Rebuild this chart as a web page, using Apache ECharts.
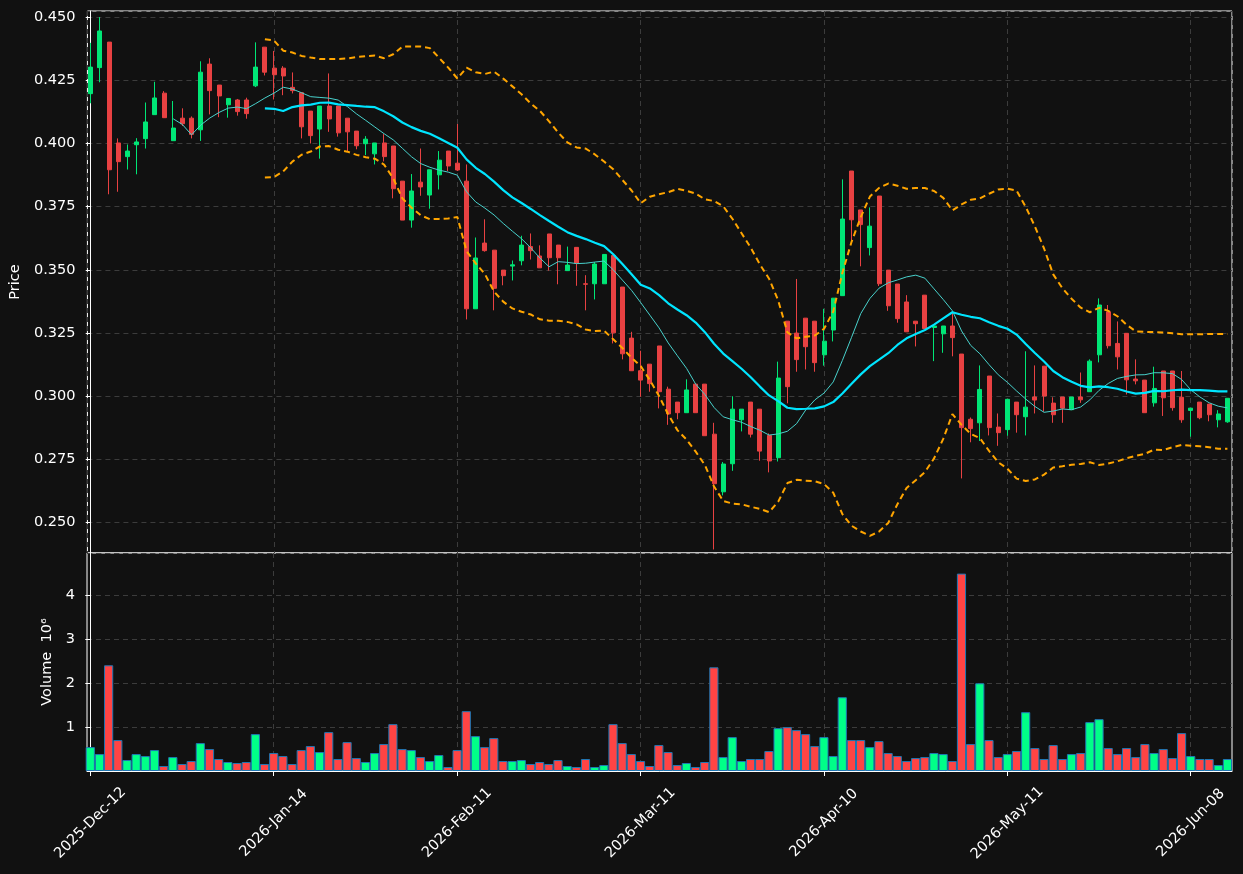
<!DOCTYPE html>
<html>
<head>
<meta charset="utf-8">
<script src="https://cdn.jsdelivr.net/npm/echarts@6/dist/echarts.min.js"></script>
<style>
  html, body { margin: 0; padding: 0; background: #111111; }
  #chart { width: 1243px; height: 874px; }
</style>
</head>
<body>
<div id="chart"></div>
<script>
const dates = [
  '2025-Dec-12', '2025-Dec-15', '2025-Dec-16', '2025-Dec-17', '2025-Dec-18', '2025-Dec-19', '2025-Dec-22', '2025-Dec-23', '2025-Dec-26', '2025-Dec-29',
  '2025-Dec-30', '2025-Dec-31', '2026-Jan-02', '2026-Jan-05', '2026-Jan-06', '2026-Jan-07', '2026-Jan-08', '2026-Jan-09', '2026-Jan-12', '2026-Jan-13',
  '2026-Jan-14', '2026-Jan-15', '2026-Jan-16', '2026-Jan-19', '2026-Jan-20', '2026-Jan-21', '2026-Jan-22', '2026-Jan-23', '2026-Jan-26', '2026-Jan-27',
  '2026-Jan-28', '2026-Jan-29', '2026-Jan-30', '2026-Feb-02', '2026-Feb-03', '2026-Feb-04', '2026-Feb-05', '2026-Feb-06', '2026-Feb-09', '2026-Feb-10',
  '2026-Feb-11', '2026-Feb-12', '2026-Feb-13', '2026-Feb-16', '2026-Feb-17', '2026-Feb-18', '2026-Feb-19', '2026-Feb-20', '2026-Feb-23', '2026-Feb-24',
  '2026-Feb-25', '2026-Feb-26', '2026-Feb-27', '2026-Mar-02', '2026-Mar-03', '2026-Mar-04', '2026-Mar-05', '2026-Mar-06', '2026-Mar-09', '2026-Mar-10',
  '2026-Mar-11', '2026-Mar-12', '2026-Mar-13', '2026-Mar-16', '2026-Mar-17', '2026-Mar-18', '2026-Mar-19', '2026-Mar-20', '2026-Mar-23', '2026-Mar-24',
  '2026-Mar-25', '2026-Mar-26', '2026-Mar-27', '2026-Mar-30', '2026-Mar-31', '2026-Apr-01', '2026-Apr-02', '2026-Apr-07', '2026-Apr-08', '2026-Apr-09',
  '2026-Apr-10', '2026-Apr-13', '2026-Apr-14', '2026-Apr-15', '2026-Apr-16', '2026-Apr-17', '2026-Apr-20', '2026-Apr-21', '2026-Apr-22', '2026-Apr-23',
  '2026-Apr-24', '2026-Apr-27', '2026-Apr-28', '2026-Apr-29', '2026-Apr-30', '2026-May-04', '2026-May-05', '2026-May-06', '2026-May-07', '2026-May-08',
  '2026-May-11', '2026-May-12', '2026-May-13', '2026-May-14', '2026-May-15', '2026-May-18', '2026-May-19', '2026-May-20', '2026-May-21', '2026-May-22',
  '2026-May-25', '2026-May-26', '2026-May-27', '2026-May-28', '2026-May-29', '2026-Jun-01', '2026-Jun-02', '2026-Jun-03', '2026-Jun-04', '2026-Jun-05',
  '2026-Jun-08', '2026-Jun-09', '2026-Jun-10', '2026-Jun-11', '2026-Jun-12'
]

const opens = [
  0.4197, 0.4300, 0.4401, 0.4002, 0.3948, 0.3995, 0.4019, 0.4114, 0.4199, 0.4011,
  0.4100, 0.4100, 0.4054, 0.4314, 0.4231, 0.4153, 0.4172, 0.4172, 0.4228, 0.4381,
  0.4298, 0.4298, 0.4222, 0.4201, 0.4128, 0.4057, 0.4148, 0.4148, 0.4100, 0.4049,
  0.3999, 0.3959, 0.4002, 0.3990, 0.3851, 0.3697, 0.3847, 0.3796, 0.3876, 0.3970,
  0.3922, 0.3851, 0.3346, 0.3606, 0.3578, 0.3499, 0.3515, 0.3536, 0.3592, 0.3555,
  0.3642, 0.3598, 0.3497, 0.3589, 0.3445, 0.3445, 0.3445, 0.3557, 0.3432, 0.3230,
  0.3101, 0.3127, 0.3199, 0.3028, 0.2977, 0.2935, 0.3048, 0.3048, 0.2850, 0.2622,
  0.2733, 0.2907, 0.2977, 0.2949, 0.2845, 0.2757, 0.3297, 0.3250, 0.3309, 0.3297,
  0.3164, 0.3262, 0.3398, 0.3891, 0.3737, 0.3588, 0.3792, 0.3499, 0.3444, 0.3373,
  0.3297, 0.3400, 0.3272, 0.3247, 0.3278, 0.3167, 0.2909, 0.2895, 0.3080, 0.2878,
  0.2868, 0.2977, 0.2919, 0.2997, 0.3119, 0.2973, 0.2997, 0.2947, 0.2997, 0.3018,
  0.3164, 0.3334, 0.3209, 0.3249, 0.3068, 0.3064, 0.2974, 0.3100, 0.3100, 0.2996,
  0.2944, 0.2977, 0.2969, 0.2907, 0.2899
]

const highs = [
  0.4398, 0.4500, 0.4401, 0.4020, 0.3996, 0.4021, 0.4162, 0.4244, 0.4207, 0.4168,
  0.4139, 0.4107, 0.4325, 0.4337, 0.4231, 0.4178, 0.4176, 0.4181, 0.4400, 0.4381,
  0.4366, 0.4306, 0.4281, 0.4201, 0.4128, 0.4148, 0.4277, 0.4148, 0.4100, 0.4049,
  0.4029, 0.4002, 0.4037, 0.3990, 0.3851, 0.3879, 0.3980, 0.3896, 0.3970, 0.3970,
  0.4077, 0.3917, 0.3628, 0.3700, 0.3578, 0.3499, 0.3537, 0.3635, 0.3644, 0.3597,
  0.3642, 0.3598, 0.3592, 0.3589, 0.3479, 0.3531, 0.3561, 0.3557, 0.3432, 0.3255,
  0.3180, 0.3127, 0.3199, 0.3038, 0.2977, 0.3067, 0.3048, 0.3048, 0.2895, 0.2740,
  0.3000, 0.2949, 0.2977, 0.2949, 0.2853, 0.3137, 0.3297, 0.3464, 0.3309, 0.3297,
  0.3346, 0.3388, 0.3858, 0.3891, 0.3737, 0.3747, 0.3792, 0.3499, 0.3444, 0.3400,
  0.3297, 0.3400, 0.3278, 0.3278, 0.3334, 0.3167, 0.2916, 0.3122, 0.3080, 0.2932,
  0.2988, 0.2977, 0.3178, 0.3122, 0.3119, 0.2996, 0.2997, 0.2997, 0.3094, 0.3146,
  0.3387, 0.3361, 0.3296, 0.3249, 0.3146, 0.3064, 0.3117, 0.3100, 0.3100, 0.3100,
  0.2953, 0.2977, 0.2969, 0.2945, 0.2992
]

const lows = [
  0.4159, 0.4242, 0.3799, 0.3809, 0.3897, 0.3878, 0.3980, 0.4114, 0.4102, 0.4011,
  0.4069, 0.4020, 0.4010, 0.4115, 0.4104, 0.4102, 0.4110, 0.4098, 0.4223, 0.4269,
  0.4174, 0.4191, 0.4198, 0.4020, 0.4000, 0.3940, 0.4046, 0.4027, 0.3966, 0.3977,
  0.3954, 0.3917, 0.3929, 0.3783, 0.3697, 0.3667, 0.3793, 0.3742, 0.3818, 0.3891,
  0.3891, 0.3304, 0.3346, 0.3572, 0.3340, 0.3439, 0.3458, 0.3518, 0.3541, 0.3508,
  0.3497, 0.3443, 0.3497, 0.3437, 0.3340, 0.3383, 0.3445, 0.3209, 0.3146, 0.3101,
  0.2998, 0.3018, 0.2952, 0.2887, 0.2909, 0.2935, 0.2935, 0.2844, 0.2394, 0.2608,
  0.2705, 0.2861, 0.2837, 0.2745, 0.2699, 0.2742, 0.2972, 0.3097, 0.3106, 0.3097,
  0.3121, 0.3217, 0.3398, 0.3618, 0.3514, 0.3557, 0.3436, 0.3338, 0.3291, 0.3255,
  0.3197, 0.3268, 0.3139, 0.3172, 0.3158, 0.2675, 0.2818, 0.2823, 0.2845, 0.2804,
  0.2844, 0.2856, 0.2845, 0.2932, 0.2939, 0.2895, 0.2895, 0.2947, 0.2974, 0.3018,
  0.3134, 0.3189, 0.3106, 0.3007, 0.3047, 0.2935, 0.2959, 0.2922, 0.2943, 0.2895,
  0.2840, 0.2909, 0.2901, 0.2877, 0.2895
]

const closes = [
  0.4302, 0.4445, 0.3896, 0.3928, 0.3970, 0.4006, 0.4085, 0.4180, 0.4102, 0.4061,
  0.4078, 0.4036, 0.4282, 0.4209, 0.4188, 0.4178, 0.4126, 0.4118, 0.4302, 0.4282,
  0.4272, 0.4267, 0.4209, 0.4066, 0.4031, 0.4148, 0.4097, 0.4042, 0.4046, 0.3991,
  0.4017, 0.4002, 0.3948, 0.3821, 0.3697, 0.3812, 0.3828, 0.3896, 0.3934, 0.3911,
  0.3895, 0.3346, 0.3547, 0.3576, 0.3427, 0.3477, 0.3520, 0.3598, 0.3576, 0.3508,
  0.3548, 0.3548, 0.3519, 0.3526, 0.3443, 0.3523, 0.3561, 0.3251, 0.3168, 0.3101,
  0.3064, 0.3050, 0.3018, 0.2930, 0.2935, 0.3025, 0.2935, 0.2844, 0.2654, 0.2732,
  0.2949, 0.2949, 0.2850, 0.2783, 0.2744, 0.3072, 0.3038, 0.3145, 0.3196, 0.3133,
  0.3218, 0.3388, 0.3701, 0.3698, 0.3679, 0.3673, 0.3445, 0.3358, 0.3307, 0.3255,
  0.3287, 0.3268, 0.3278, 0.3278, 0.3232, 0.2876, 0.2872, 0.3027, 0.2876, 0.2856,
  0.2988, 0.2927, 0.2957, 0.2985, 0.3001, 0.2927, 0.2953, 0.2997, 0.2986, 0.3139,
  0.3361, 0.3200, 0.3156, 0.3065, 0.3061, 0.2935, 0.3031, 0.2994, 0.2955, 0.2907,
  0.2953, 0.2915, 0.2927, 0.2930, 0.2992
]

// volume in millions
const volumes = [
  0.545, 0.386, 2.41, 0.705, 0.25, 0.386, 0.34, 0.477, 0.114, 0.318,
  0.159, 0.227, 0.636, 0.5, 0.273, 0.205, 0.182, 0.205, 0.841, 0.159,
  0.409, 0.341, 0.159, 0.477, 0.568, 0.432, 0.886, 0.273, 0.659, 0.295,
  0.205, 0.409, 0.614, 1.068, 0.5, 0.477, 0.318, 0.227, 0.364, 0.091,
  0.477, 1.364, 0.795, 0.545, 0.75, 0.227, 0.227, 0.25, 0.159, 0.205,
  0.159, 0.25, 0.114, 0.091, 0.273, 0.091, 0.136, 1.068, 0.636, 0.386,
  0.227, 0.114, 0.591, 0.432, 0.136, 0.182, 0.091, 0.205, 2.364, 0.318,
  0.773, 0.227, 0.273, 0.273, 0.455, 0.977, 1.0, 0.932, 0.841, 0.568,
  0.773, 0.341, 1.682, 0.705, 0.705, 0.545, 0.682, 0.409, 0.341, 0.227,
  0.295, 0.318, 0.409, 0.386, 0.227, 4.5, 0.614, 2.0, 0.705, 0.318,
  0.386, 0.455, 1.341, 0.523, 0.273, 0.591, 0.273, 0.386, 0.409, 1.114,
  1.182, 0.523, 0.386, 0.523, 0.318, 0.614, 0.409, 0.5, 0.295, 0.864,
  0.341, 0.273, 0.273, 0.136, 0.273
]

const tickIndex = [0, 20, 40, 60, 80, 100, 120]

const UP = '#00e676'
const DOWN = '#e84142'
const VOL_UP = '#00ff88'
const VOL_DOWN = '#ff4444'
const TEXT = '#ffffff'
const GRIDLINE = '#3c3c3c'
const FONT = 'DejaVu Sans'

// rolling mean / bollinger from closes
function rolling(n, fn) {
  const out = []
  for (let i = n - 1; i < closes.length; i++) {
    const win = closes.slice(i - n + 1, i + 1)
    out.push([i, fn(win)])
  }
  return out
}
const mean = (w) => w.reduce((a, b) => a + b, 0) / w.length
const std = (w) => {
  const m = mean(w)
  return Math.sqrt(w.reduce((a, b) => a + (b - m) * (b - m), 0) / w.length)
}
const ma10 = rolling(10, mean)
const ma20 = rolling(20, mean)
const bbUp = rolling(20, (w) => mean(w) + 2 * std(w))
const bbLow = rolling(20, (w) => mean(w) - 2 * std(w))

const candles = closes.map((c, i) => [i, opens[i], c, lows[i], highs[i]])
const volData = volumes.map((v, i) => ({
  value: [i, v],
  itemStyle: { color: closes[i] >= opens[i] ? VOL_UP : VOL_DOWN }
}))

const xMin = -0.36
const xMax = 124.5

const splitDash = { show: true, lineStyle: { color: GRIDLINE, type: [5, 4], width: 1 } }
const labelFont = { color: TEXT, fontFamily: FONT, fontSize: 14.5 }

const chart = echarts.init(document.getElementById('chart'), null, { renderer: 'canvas' })
chart.setOption({
  backgroundColor: '#111111',
  animation: false,
  grid: [
    { left: 87, top: 11, width: 1145, height: 542, show: true, borderColor: '#ffffff', borderWidth: 1, backgroundColor: '#111111' },
    { left: 87, top: 553, width: 1145, height: 218, show: true, borderColor: '#ffffff', borderWidth: 1, backgroundColor: '#111111' }
  ],
  xAxis: [
    {
      type: 'value', gridIndex: 0, min: xMin, max: xMax, minInterval: 20, maxInterval: 20,
      axisLine: { show: false }, axisTick: { show: false }, axisLabel: { show: false },
      splitLine: splitDash
    },
    {
      type: 'value', gridIndex: 1, min: xMin, max: xMax, minInterval: 20, maxInterval: 20,
      axisLine: { show: true, onZero: false, lineStyle: { color: '#ffffff' } },
      axisTick: { show: true, length: 5, lineStyle: { color: '#ffffff' }, customValues: tickIndex },
      axisLabel: {
        ...labelFont, rotate: 45, align: 'center', verticalAlign: 'middle', margin: 52,
        customValues: tickIndex,
        formatter: (v) => dates[Math.round(v)] || ''
      },
      splitLine: splitDash
    }
  ],
  yAxis: [
    {
      type: 'value', gridIndex: 0, min: 0.238, max: 0.4524, minInterval: 0.025, maxInterval: 0.025,
      name: 'Price', nameLocation: 'middle', nameRotate: 90, nameGap: 57,
      nameTextStyle: { color: TEXT, fontFamily: FONT, fontSize: 14.5 },
      axisLine: { show: true, lineStyle: { color: '#ffffff' } },
      axisTick: { show: true, length: 5, lineStyle: { color: '#ffffff' } },
      axisLabel: { ...labelFont, margin: 12, showMinLabel: false, showMaxLabel: false, formatter: (v) => v.toFixed(3) },
      splitLine: splitDash
    },
    {
      type: 'value', gridIndex: 1, min: 0, max: 4.97, interval: 1,
      name: 'Volume  10⁶', nameLocation: 'middle', nameRotate: 90, nameGap: 26,
      nameTextStyle: { color: TEXT, fontFamily: FONT, fontSize: 14.5 },
      axisLine: { show: true, lineStyle: { color: '#ffffff' } },
      axisTick: { show: true, length: 5, lineStyle: { color: '#ffffff' } },
      axisLabel: { ...labelFont, margin: 12, showMinLabel: false, showMaxLabel: false },
      splitLine: splitDash
    }
  ],
  series: [
    {
      type: 'candlestick', xAxisIndex: 0, yAxisIndex: 0,
      data: candles, encode: { x: 0, y: [1, 2, 3, 4] },
      barWidth: 4.5,
      itemStyle: { color: UP, color0: DOWN, borderColor: UP, borderColor0: DOWN, borderWidth: 1 }
    },
    {
      type: 'line', xAxisIndex: 0, yAxisIndex: 0, data: ma10, showSymbol: false,
      lineStyle: { color: '#48d1cc', width: 1 }, z: 3
    },
    {
      type: 'line', xAxisIndex: 0, yAxisIndex: 0, data: ma20, showSymbol: false,
      lineStyle: { color: '#00e5ff', width: 2.2 }, z: 3
    },
    {
      type: 'line', xAxisIndex: 0, yAxisIndex: 0, data: bbUp, showSymbol: false,
      lineStyle: { color: '#ffa500', width: 2, type: [6, 4] }, z: 3
    },
    {
      type: 'line', xAxisIndex: 0, yAxisIndex: 0, data: bbLow, showSymbol: false,
      lineStyle: { color: '#ffa500', width: 2, type: [6, 4] }, z: 3
    },
    {
      type: 'bar', xAxisIndex: 1, yAxisIndex: 1, data: volData, barWidth: '100%',
      itemStyle: { borderColor: '#1f77b4', borderWidth: 1 }
    }
  ]
})
</script>
</body>
</html>
